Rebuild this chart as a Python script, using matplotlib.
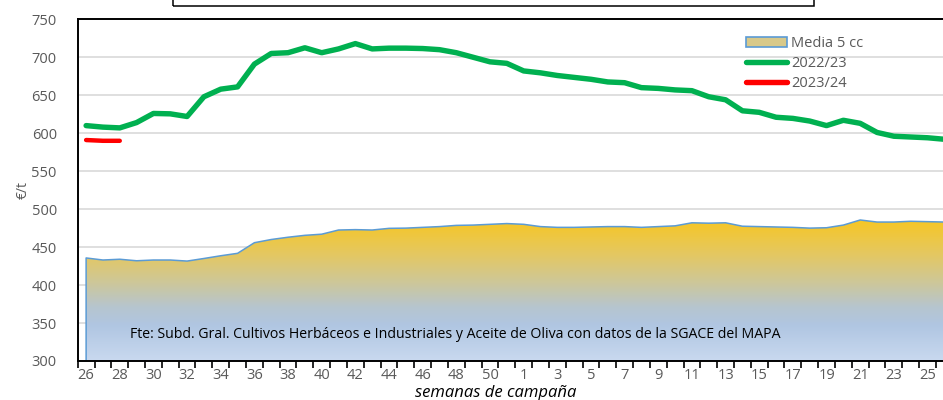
import matplotlib
matplotlib.use("Agg")
import matplotlib.pyplot as plt
import numpy as np
from matplotlib.colors import LinearSegmentedColormap
from matplotlib.lines import Line2D
from matplotlib.patches import Patch, Rectangle

# campaign weeks 26..51, then 1..26
weeks = list(range(26, 52)) + list(range(1, 27))

media_5cc = [435.7, 433, 434, 432, 433, 433, 431.6, 435, 438.6, 441.8,
             455.8, 460, 463, 465.5, 467, 472.5, 473, 472.5, 474.7, 475,
             476, 477, 478.6, 479, 480, 481, 480, 477, 476, 476,
             476.5, 477, 477, 476, 477, 478, 482, 481.5, 482, 477.5,
             477, 476.5, 476, 475, 475.5, 479, 485.7, 483, 483, 484,
             483.5, 483]

c2022_23 = [610, 608, 607, 614, 626, 625.5, 622, 648, 658, 661,
            691, 705, 706, 712.5, 706, 711, 718, 711, 712, 712,
            711.5, 710, 706, 700, 694, 692, 682, 679.5, 676, 673.5,
            671, 667.5, 666.5, 660, 659, 657, 656, 648, 644, 629.5,
            627.5, 621, 619.5, 616, 610, 617, 613, 601, 596, 595,
            594, 592]

c2023_24 = [591, 590, 590]

fuente = ("Fte: Subd. Gral. Cultivos Herbáceos e Industriales y Aceite de Oliva "
          "con datos de la SGACE del MAPA")

plt.rcParams['font.family'] = ['Open Sans', 'DejaVu Sans']

fig = plt.figure(figsize=(9.43, 4.0), dpi=100)
ax = fig.add_axes([77.7 / 943, 1 - 361 / 400, 1 - 77.7 / 943, (361 - 19.3) / 400])

x = np.arange(len(weeks))
ymin, ymax = 300, 750

# gradient area for the 5-year mean
grad = LinearSegmentedColormap.from_list("g", [
    (0.0, "#C9D9EF"), (0.25, "#B0C6E2"), (0.38, "#B6C5CF"),
    (0.55, "#CDC79A"), (0.75, "#E4C862"), (1.0, "#F7C623")])
top = max(media_5cc)
poly = ax.fill_between(x, media_5cc, ymin, facecolor="none", edgecolor="none", zorder=1)
img = ax.imshow(np.linspace(1, 0, 256).reshape(-1, 1), cmap=grad, aspect="auto",
                extent=[x[0], x[-1], ymin, top], zorder=1, interpolation="bilinear")
img.set_clip_path(poly.get_paths()[0], transform=ax.transData)
ax.plot(np.r_[x[0], x], np.r_[ymin, media_5cc], color="#5B9BD5", lw=1.1, zorder=2)

ax.plot(x, c2022_23, color="#00B050", lw=3.9, solid_capstyle="round",
        solid_joinstyle="round", zorder=3)
ax.plot(x[:len(c2023_24)], c2023_24, color="#FF0000", lw=3.2, solid_capstyle="round",
        zorder=3)

ax.set_xlim(-0.5, 50.92)
ax.set_ylim(ymin, ymax)
ax.set_yticks(np.arange(300, 751, 50))
ax.set_xticks(x[::2])
ax.set_xticklabels([str(w) for w in weeks[::2]])
ax.set_xticks(np.arange(-0.5, 51, 1), minor=True)
ax.tick_params(axis="x", which="major", length=0, pad=5, labelsize=10.5, labelcolor="#595959")
ax.tick_params(axis="x", which="minor", length=5, width=1.2, color="black", direction="out")
ax.tick_params(axis="y", length=0, pad=15, labelsize=10.5, labelcolor="#595959")
ax.grid(axis="y", color="#D9D9D9", lw=1.2, zorder=0)
ax.set_axisbelow(True)
for s in ["left", "bottom", "top"]:
    ax.spines[s].set_color("black")
    ax.spines[s].set_linewidth(1.4)
ax.spines["right"].set_visible(False)

fig.text(23 / 943, 1 - 190 / 400, "€/t", rotation=90, fontsize=10, color="#595959",
         ha="center", va="center")
fig.text(496 / 943, 1 - 393 / 400, "semanas de campaña", fontsize=12, style="italic",
         color="black", ha="center", va="center")

ax.text(130 / 943, 1 - 335 / 400, fuente, transform=fig.transFigure, fontsize=10.2,
        color="black", ha="left", va="center", zorder=5)

handles = [Patch(facecolor="#D8C98A", edgecolor="#5B9BD5", lw=1.2),
           Line2D([], [], color="#00B050", lw=3.9, solid_capstyle="round"),
           Line2D([], [], color="#FF0000", lw=3.9, solid_capstyle="round")]
fig.legend(handles, ["Media 5 cc", "2022/23", "2023/24"], loc="upper left",
           bbox_to_anchor=(746 / 943, 1 - 36 / 400), frameon=False, fontsize=10.5,
           labelcolor="#595959", handlelength=2.8, handletextpad=0.3,
           labelspacing=0.35, borderpad=0, borderaxespad=0)

fig.add_artist(Rectangle((173 / 943, 1 - 6 / 400), (814 - 173) / 943, 0.1,
                         transform=fig.transFigure, fill=False, edgecolor="black",
                         lw=1.1, clip_on=False))

fig.savefig("out.png", dpi=100)
